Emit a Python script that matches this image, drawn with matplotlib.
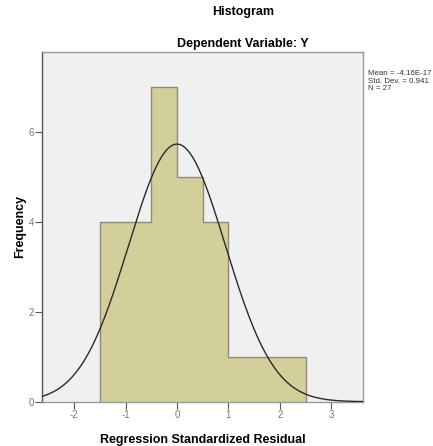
import numpy as np
import matplotlib
matplotlib.use("Agg")
import matplotlib.pyplot as plt

# histogram of the regression standardized residuals
bin_edges = [-1.5, -1.0, -0.5, 0.0, 0.5, 1.0, 1.5, 2.0, 2.5]
counts = [4, 4, 7, 5, 4, 1, 1, 1]
x_ticks = [-2, -1, 0, 1, 2, 3]
y_ticks = [0, 2, 4, 6]

# stats printed by SPSS next to the chart
mean = -4.16e-17
std_dev = 0.941
n_cases = 27

plt.rcParams['font.family'] = ['Liberation Sans', 'DejaVu Sans']

fig = plt.figure(figsize=(4.33, 4.46), dpi=100)
ax = fig.add_axes([0.0977, 0.0993, 0.7406, 0.7841])
ax.set_facecolor("#f0f0f0")

ax.stairs(counts, bin_edges, fill=True, color="#d3cf9b", zorder=2)
ax.stairs(counts, bin_edges, baseline=0, color="#8c8a7a", lw=1.0, zorder=3)

# normal curve scaled to the histogram
bw = bin_edges[1] - bin_edges[0]
xs = np.linspace(-2.62, 3.62, 300)
ys = n_cases * bw / (std_dev * np.sqrt(2 * np.pi)) * np.exp(-0.5 * ((xs - mean) / std_dev) ** 2)
ax.plot(xs, ys, color="#2a2a2a", lw=1.0, zorder=4)

ax.set_xlim(-2.617, 3.614)
ax.set_ylim(0, 7.77)
ax.set_xticks(x_ticks)
ax.set_yticks(y_ticks)
ax.set_xticklabels([str(t) for t in x_ticks])
ax.tick_params(axis="both", direction="out", length=5, width=0.8, colors="#555555",
               labelsize=7, labelcolor="#777777", pad=1)

for side in ["top", "right", "bottom"]:
    ax.spines[side].set_color("#999999")
ax.spines["left"].set_color("#555555")
for s in ax.spines.values():
    s.set_linewidth(1.0)

ax.set_xlabel("Regression Standardized Residual", fontsize=9, fontweight="bold", labelpad=10)
ax.set_ylabel("Frequency", fontsize=9, fontweight="bold", labelpad=2)

fig.text(0.561, 0.972, "Histogram", ha="center", va="center", fontsize=9, fontweight="bold")
fig.text(0.561, 0.901, "Dependent Variable: Y", ha="center", va="center", fontsize=9, fontweight="bold")

fig.text(0.849, 0.842, "Mean = -4.16E-17\nStd. Dev. = 0.941\nN = 27",
         ha="left", va="top", fontsize=5.7, color="#333333", linespacing=1.05)

fig.savefig("out.png", dpi=100)
